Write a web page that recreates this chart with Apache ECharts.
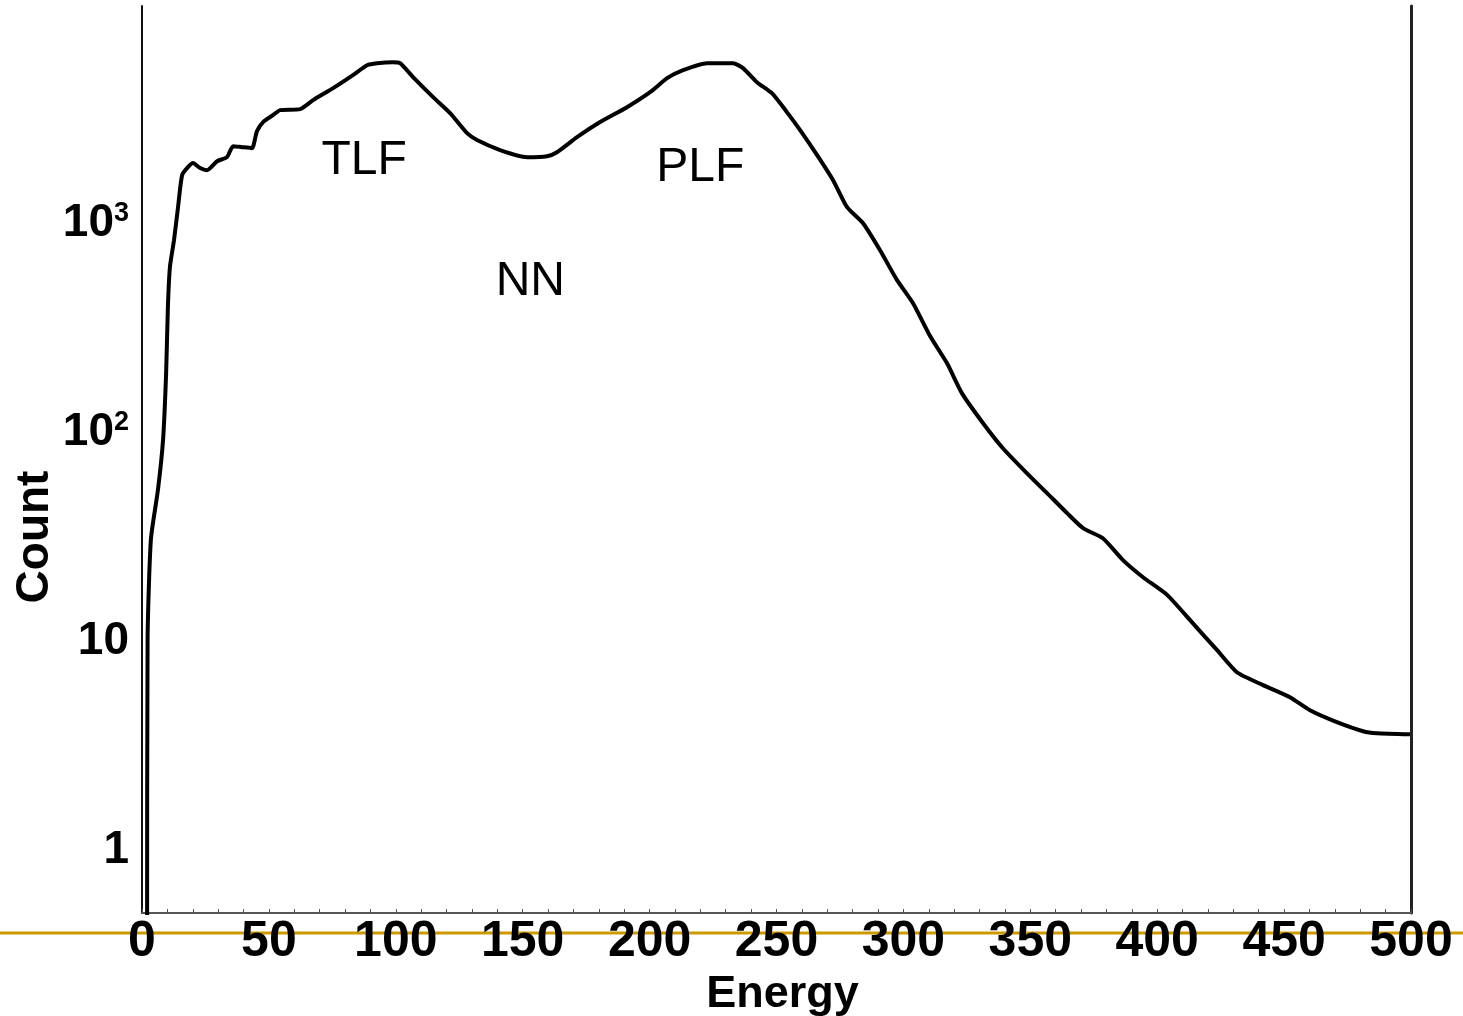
<!DOCTYPE html>
<html>
<head>
<meta charset="utf-8">
<script src="https://cdn.jsdelivr.net/npm/echarts@6/dist/echarts.min.js"></script>
<style>html,body{margin:0;padding:0;background:#fff}#c{width:1463px;height:1016px}</style>
</head>
<body>
<div id="c"></div>
<script>
// Energy (x) values
var energy = [2.0, 2.2, 3.5, 6.3, 8.3, 9.5, 10.2, 11.0, 12.6, 14.2, 15.8, 18.1, 20.1, 22.9, 25.6, 29.6, 33.5, 35.9, 39.4, 43.3, 45.3, 47.7, 51.6, 54.4, 62.3, 67.4, 75.3, 83.1, 88.7, 92.6, 98.9, 101.7, 106.8, 114.7, 121.4, 128.1, 132.0, 141.1, 151.7, 159.6, 163.5, 171.4, 180.5, 191.1, 200.2, 206.9, 213.2, 222.6, 232.9, 236.8, 242.3, 248.2, 254.1, 259.3, 266.0, 272.3, 277.8, 284.1, 290.8, 297.5, 303.8, 310.5, 317.2, 323.1, 331.4, 339.2, 348.7, 356.6, 364.5, 370.8, 378.6, 386.5, 394.4, 403.9, 414.1, 423.6, 431.4, 441.7, 452.3, 460.2, 470.8, 481.1, 486.6, 499.6];
// Count values
var counts = [0.3, 10, 30, 52, 90, 187, 388, 603, 811, 1167, 1660, 1813, 1896, 1795, 1754, 1936, 2024, 2285, 2260, 2235, 2697, 2979, 3216, 3398, 3435, 3793, 4328, 4997, 5574, 5700, 5766, 5700, 4887, 3920, 3290, 2636, 2443, 2188, 2024, 2046, 2138, 2523, 2979, 3510, 4140, 4830, 5276, 5700, 5700, 5400, 4624, 4095, 3325, 2725, 2070, 1570, 1167, 977, 726, 522, 405, 282, 209, 150, 108, 82, 62.2, 50.0, 40.1, 34.0, 30.4, 23.9, 19.8, 16.3, 11.9, 8.86, 6.95, 6.03, 5.28, 4.57, 4.01, 3.63, 3.55, 3.51];
// Axis tick labels
var yTickLabels = {1: '{b|1}', 10: '{b|10}', 100: '{b|10}{s|2}', 1000: '{b|10}{s|3}'};
// Annotations: [label, energy, count]
var annNames = ['TLF', 'NN', 'PLF'];
var annEnergy = [87.5, 153, 220];
var annCount = [1950, 511, 1795];

var seriesData = energy.map(function (e, i) { return [e, counts[i]]; });
var annData = annNames.map(function (n, i) {
  return { coord: [annEnergy[i], annCount[i]], value: n };
});

var chart = echarts.init(document.getElementById('c'), null, { renderer: 'canvas' });
var FONT = '"Liberation Sans", Arial, sans-serif';
chart.setOption({
  animation: false,
  backgroundColor: '#ffffff',
  graphic: [{
    type: 'line', z: 0,
    shape: { x1: 0, y1: 933, x2: 1463, y2: 933 },
    style: { stroke: '#CC9900', lineWidth: 3 }
  }, {
    type: 'text', z: 10,
    x: 35, y: 537, rotation: Math.PI / 2,
    style: { text: 'Count', fontFamily: FONT, fontWeight: 'bold', fontSize: 46, fill: '#000', align: 'center', verticalAlign: 'middle' }
  }],
  grid: { left: 142, right: 52, top: 6, bottom: 103, containLabel: false, outerBoundsMode: 'none' },
  xAxis: {
    type: 'value', min: 0, max: 500, interval: 50,
    name: 'Energy', nameLocation: 'middle', nameGap: 38,
    nameTextStyle: { fontFamily: FONT, fontWeight: 'bold', fontSize: 45, color: '#000', padding: [0, 0, 0, 12] },
    axisLine: { show: true, lineStyle: { color: '#555', width: 2 } },
    axisTick: { show: true, inside: true, length: 4, lineStyle: { color: '#555', width: 1 } },
    minorTick: { show: true, splitNumber: 5, length: 4, lineStyle: { color: '#555', width: 1 } },
    splitLine: { show: false },
    axisLabel: { margin: 4, fontFamily: FONT, fontWeight: 'bold', fontSize: 50, color: '#000' }
  },
  yAxis: [{
    type: 'log', logBase: 10, min: 0.49, max: 10700,
    axisLine: { show: true, lineStyle: { color: '#111', width: 2 } },
    axisTick: { show: false },
    splitLine: { show: false },
    axisLabel: {
      margin: 13,
      padding: [4, 0, 0, 0],
      showMinLabel: false, showMaxLabel: false,
      formatter: function (v) {
        var r = Math.round(v);
        return (Math.abs(v - r) < 1e-6 && yTickLabels[r]) ? yTickLabels[r] : '';
      },
      rich: {
        b: { fontFamily: FONT, fontWeight: 'bold', fontSize: 46, lineHeight: 46, color: '#000', verticalAlign: 'bottom' },
        s: { fontFamily: FONT, fontWeight: 'bold', fontSize: 27, lineHeight: 27, color: '#000', verticalAlign: 'top' }
      }
    }
  }, {
    type: 'log', logBase: 10, min: 0.49, max: 10700, position: 'right',
    axisLine: { show: true, lineStyle: { color: '#222', width: 3 } },
    axisTick: { show: false }, axisLabel: { show: false }, splitLine: { show: false }
  }],
  series: [{
    type: 'line',
    data: seriesData,
    showSymbol: false,
    smooth: 0.2,
    lineStyle: { color: '#000', width: 4 },
    clip: true,
    markPoint: {
      symbol: 'circle', symbolSize: 0,
      label: { show: true, position: 'inside', formatter: '{c}', fontFamily: FONT, fontSize: 48, color: '#000' },
      data: annData
    }
  }]
});
</script>
</body>
</html>
